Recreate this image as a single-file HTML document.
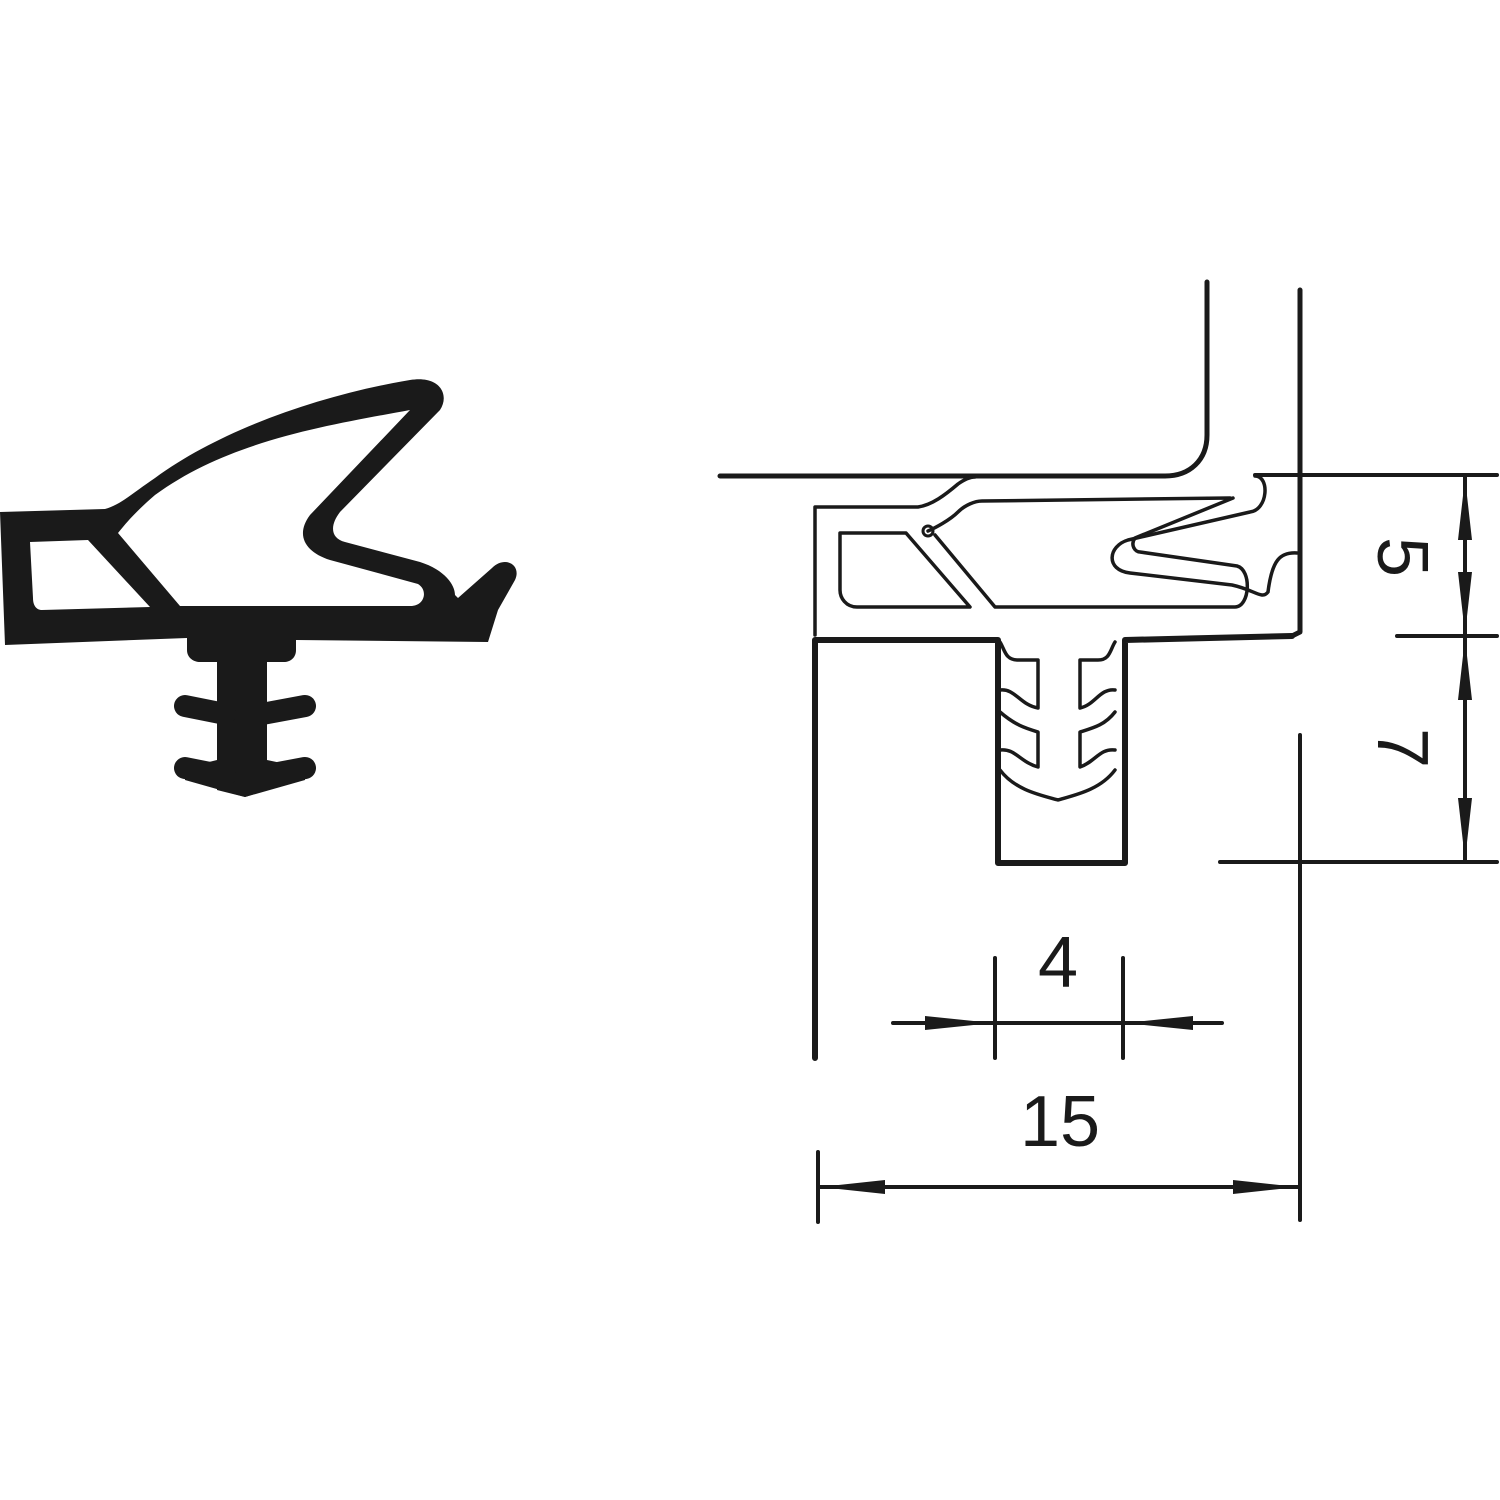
<!DOCTYPE html>
<html><head><meta charset="utf-8"><style>html,body{margin:0;padding:0;background:#fff}svg{display:block}</style></head>
<body>
<svg width="1500" height="1500" viewBox="0 0 1500 1500" xmlns="http://www.w3.org/2000/svg">
<g fill="#1a1a1a" stroke="none">
<path fill-rule="evenodd" d="M0,512 L105,509 C120,505 130,495 155,478 C220,430 320,395 410,380 C440,375 450,395 440,410 L340,512 C330,525 330,538 345,542 L420,562 C445,570 455,585 455,595 L458,598 L492,568 C505,555 522,565 515,580 L498,610 L488,642 L296,640 L296,650 C296,658 290,662 284,662 L267,662 L267,790 L245,797 L217,790 L217,662 L200,662 C194,662 187,658 187,650 L187,638 L5,645 Z
M30,542 L88,540 L150,607 L42,610 C36,610 33,605 33,598 Z
M118,533 L180,606 L412,606 C425,605 428,590 418,584 L330,560 C305,552 295,535 310,515 L410,410 C330,425 230,440 155,495 C140,508 130,518 118,533 Z"/>
<path d="M185,768 L217,760 L267,760 L305,768 L305,780 L245,797 L185,780 Z"/>
</g>
<g fill="none" stroke="#1a1a1a" stroke-linecap="round" stroke-linejoin="round">
<path d="M185,706 L225,714 M305,706 L262,714 M185,768 L225,776 M305,768 L262,776" stroke-width="22"/>
<path d="M720,476 L1165,476 C1190,476 1207,460 1207,435 L1207,282" stroke-width="5"/>
<path d="M1300,290 L1300,632 L1292,636" stroke-width="5"/>
<path d="M1255,475 L1497,475" stroke-width="4"/>
<path d="M815,1058 L815,640 L998,640 L998,863 L1125,863 L1125,640 L1292,636" stroke-width="6"/>
<path d="M815,635 L815,507 L918,507 C932,505 945,495 958,484 C965,479 970,477 975,477" stroke-width="3.5"/>
<path d="M1255,476 C1270,476 1268,510 1250,512 L1128,540 C1108,546 1105,570 1130,573 L1232,585 C1255,590 1262,600 1268,592 C1272,560 1280,552 1297,553" stroke-width="3.5"/>
<path d="M1233,498 L1135,538 C1130,545 1135,552 1140,552 L1237,566 C1252,570 1250,607 1235,607 L995,607 L935,535 M928,531 C935,528 950,520 958,512 C965,505 975,501 982,501 L1230,498" stroke-width="3.5"/>
<circle cx="928" cy="531" r="5" stroke-width="3"/>
<path d="M840,533 L906,533 L970,607 L857,607 C846,607 840,598 840,590 Z" stroke-width="3.5"/>
<path d="M1000,642 C1005,650 1005,660 1018,660 L1038,660 L1038,708 C1020,705 1015,688 1000,690 M1000,712 C1015,725 1025,728 1038,732 L1038,767 C1020,762 1015,748 1000,750 M1000,770 C1015,790 1040,795 1058,800 C1075,795 1100,790 1115,770 M1115,750 C1100,748 1095,762 1080,767 L1080,732 C1093,728 1105,725 1115,712 M1115,690 C1100,688 1095,705 1080,708 L1080,660 L1098,660 C1110,660 1110,650 1115,642" stroke-width="3.5"/>
<path d="M1300,735 L1300,1220 M1220,862 L1497,862 M1397,636 L1497,636 M1465,476 L1465,862" stroke-width="4"/>
<path d="M995,958 L995,1058 M1123,958 L1123,1058 M893,1023 L1222,1023 M818,1152 L818,1222 M818,1187 L1300,1187" stroke-width="4"/>
</g>
<g fill="#1a1a1a">
<path d="M1465,478 L1458,540 L1472,540 Z M1465,634 L1458,572 L1472,572 Z M1465,638 L1458,700 L1472,700 Z M1465,860 L1458,798 L1472,798 Z"/>
<path d="M993,1023 L925,1016 L925,1030 Z M1125,1023 L1193,1016 L1193,1030 Z"/>
<path d="M820,1187 L885,1180 L885,1194 Z M1298,1187 L1233,1180 L1233,1194 Z"/>
</g>
<g font-family="Liberation Sans, sans-serif" fill="#1a1a1a" font-size="72">
<text x="1058" y="987" text-anchor="middle">4</text>
<text x="1060" y="1146" text-anchor="middle">15</text>
<text transform="translate(1378,557) rotate(90)" text-anchor="middle">5</text>
<text transform="translate(1378,748) rotate(90)" text-anchor="middle">7</text>
</g>
</svg>
</body></html>
